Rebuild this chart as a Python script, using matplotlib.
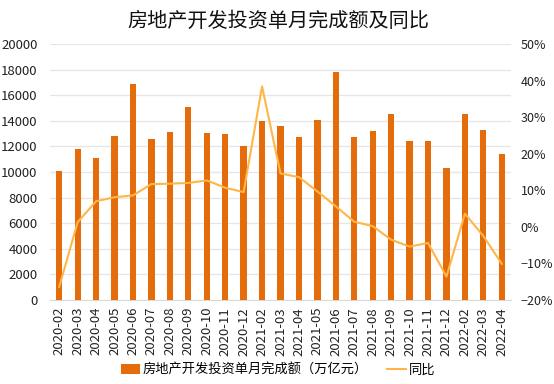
import matplotlib
matplotlib.use('Agg')
import matplotlib.pyplot as plt
from matplotlib.ticker import FuncFormatter, MultipleLocator
import numpy as np

plt.rcParams['font.family'] = ['Noto Sans CJK SC', 'DejaVu Sans']
plt.rcParams['axes.unicode_minus'] = True

months = ['2020-02', '2020-03', '2020-04', '2020-05', '2020-06', '2020-07',
          '2020-08', '2020-09', '2020-10', '2020-11', '2020-12', '2021-02',
          '2021-03', '2021-04', '2021-05', '2021-06', '2021-07', '2021-08',
          '2021-09', '2021-10', '2021-11', '2021-12', '2022-02', '2022-03',
          '2022-04']
invest = [10100, 11800, 11100, 12800, 16900, 12550, 13100, 15050, 13080,
          12950, 12000, 14000, 13600, 12700, 14100, 17850, 12750, 13200,
          14500, 12400, 12400, 10300, 14500, 13300, 11400]
yoy = [-16.4, 1.3, 7.0, 8.1, 8.6, 11.7, 11.8, 12.0, 12.7, 10.7, 9.5, 38.4,
       14.6, 13.6, 9.7, 5.6, 1.4, 0.2, -3.5, -5.4, -4.4, -13.6, 3.6, -2.5,
       -10.1]

bar_color = '#E46C0A'
line_color = '#FFB547'

fig = plt.figure(figsize=(5.54, 3.84), dpi=100)
ax = fig.add_axes([50/554, 1-300/384, 461/554, 256/384])
x = np.arange(len(months))
bars = ax.bar(x, invest, width=0.34, color=bar_color, zorder=3)
ax.set_ylim(0, 20000)
ax.set_xlim(-0.5, len(months) - 0.5)
ax.yaxis.set_major_locator(MultipleLocator(2000))
ax.grid(axis='y', color='#E6E6E6', linewidth=0.9, zorder=0)
ax.set_xticks(x)
ax.set_xticklabels(months, rotation=90, fontsize=9.5)
ax.tick_params(axis='both', length=0, labelsize=9.5, colors='#222222')
ax.tick_params(axis='y', pad=9)
ax.tick_params(axis='x', pad=5)
for s in ['top', 'right', 'left']:
    ax.spines[s].set_visible(False)
ax.spines['bottom'].set_color('#D9D9D9')

ax2 = ax.twinx()
line, = ax2.plot(x, yoy, color=line_color, linewidth=1.5, zorder=4)
ax2.set_ylim(-20, 50)
ax2.yaxis.set_major_locator(MultipleLocator(10))
ax2.yaxis.set_major_formatter(FuncFormatter(lambda v, p: '%d%%' % v if v >= 0 else '\u2212%d%%' % -v))
ax2.tick_params(axis='y', length=0, labelsize=9, colors='#222222', pad=7)
for s in ax2.spines.values():
    s.set_visible(False)

fig.text(278/554, 1-21/384, '房地产开发投资单月完成额及同比', ha='center', va='center',
         fontsize=14.5, fontweight='medium', color='#111111')
fig.legend([bars, line], ['房地产开发投资单月完成额（万亿元）', '同比'],
           loc='center', bbox_to_anchor=(278/554, 1-370/384), ncol=2, frameon=False,
           fontsize=9.5, handlelength=1.4, columnspacing=1.5, handletextpad=0.2)

fig.savefig('out.png', dpi=100)
